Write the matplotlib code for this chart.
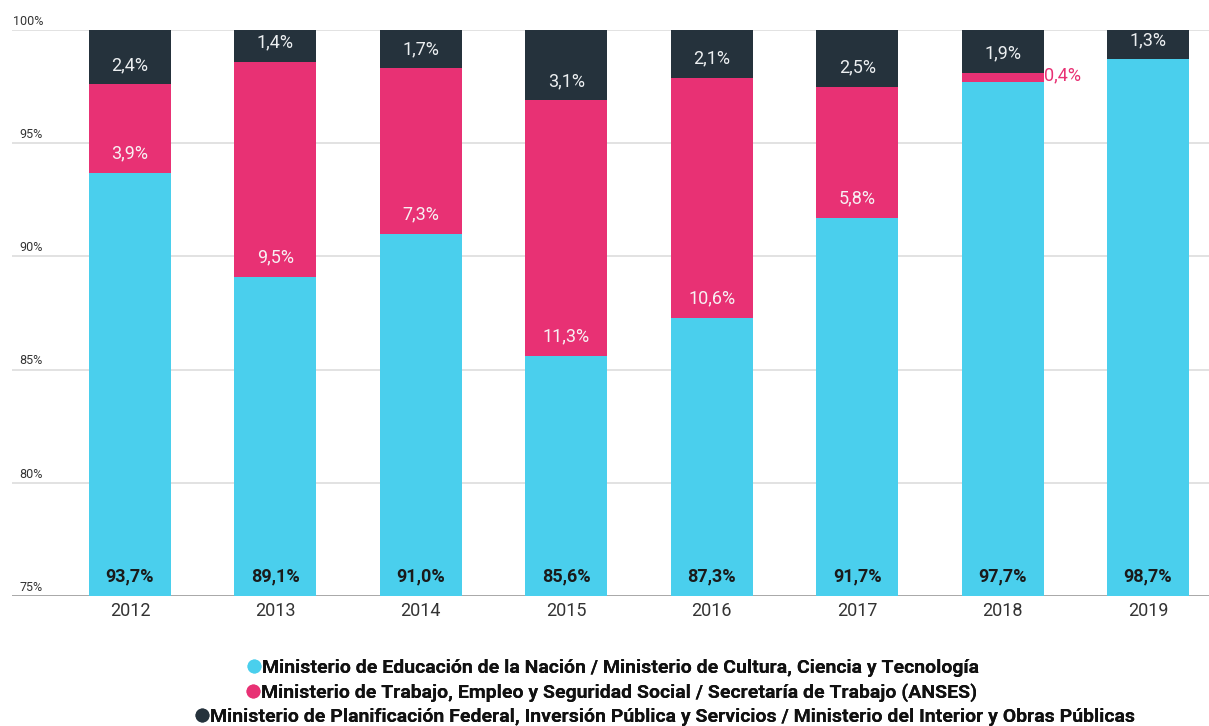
import matplotlib
matplotlib.use("Agg")
import matplotlib.pyplot as plt
from matplotlib.lines import Line2D
import numpy as np

plt.rcParams['font.family'] = ['Roboto', 'DejaVu Sans']

years = ['2012', '2013', '2014', '2015', '2016', '2017', '2018', '2019']
educacion = [93.7, 89.1, 91.0, 85.6, 87.3, 91.7, 97.7, 98.7]
trabajo = [3.9, 9.5, 7.3, 11.3, 10.6, 5.8, 0.4, 0.0]
planificacion = [2.4, 1.4, 1.7, 3.1, 2.1, 2.5, 1.9, 1.3]
series_names = [
    'Ministerio de Educación de la Nación / Ministerio de Cultura, Ciencia y Tecnología',
    'Ministerio de Trabajo, Empleo y Seguridad Social / Secretaría de Trabajo (ANSES)',
    'Ministerio de Planificación Federal, Inversión Pública y Servicios / Ministerio del Interior y Obras Públicas',
]
yticks = [75, 80, 85, 90, 95, 100]

c_cyan = '#4ACFED'
c_pink = '#E83174'
c_dark = '#25323C'

W, H = 1209, 726
fig = plt.figure(figsize=(W / 100, H / 100), dpi=100)
ax = fig.add_axes([12 / W, 1 - 596 / H, (W - 12) / W, (596 - 30) / H])

x = np.arange(len(years))
w = 0.565
edu = np.array(educacion)
tra = np.array(trabajo)
pla = np.array(planificacion)

ax.bar(x, edu - 75, bottom=75, width=w, color=c_cyan, zorder=2)
ax.bar(x, tra, bottom=edu, width=w, color=c_pink, zorder=2)
ax.bar(x, pla, bottom=edu + tra, width=w, color=c_dark, zorder=2)

ax.set_xlim(-0.811, 7.419)
ax.set_ylim(75, 100)

for t in yticks:
    ax.axhline(t, color='#dddddd' if t != 75 else '#999999', lw=1.2, zorder=1)
    ax.text(-0.598, t + 0.1, f'{t}%', fontsize=9, color='#333333',
            ha='right', va='bottom')

fmt = lambda v: f'{v:.1f}'.replace('.', ',') + '%'
for i in range(len(years)):
    ax.text(x[i], 75.45, fmt(edu[i]), ha='center', va='bottom', fontsize=13,
            fontweight='bold', color='#1a1a1a', zorder=3)
    if tra[i] > 0:
        if tra[i] >= 1:
            ax.text(x[i], edu[i] + 0.85, fmt(tra[i]), ha='center', va='center',
                    fontsize=13, color='#f7f0f3', zorder=3)
        else:
            ax.text(x[i] + w / 2, edu[i] + tra[i] / 2 + 0.08, fmt(tra[i]), ha='left',
                    va='center', fontsize=13, color=c_pink, zorder=3)
    ax.text(x[i], edu[i] + tra[i] + 0.85, fmt(pla[i]), ha='center', va='center',
            fontsize=13, color='#eceff1', zorder=3)

ax.set_xticks(x)
ax.set_xticklabels(years, fontsize=13, color='#333333')
ax.tick_params(axis='x', length=0, pad=4)
ax.set_yticks([])
for s in ax.spines.values():
    s.set_visible(False)

colors = [c_cyan, c_pink, c_dark]
ypos = [668, 693, 717]
xleft = [246, 245, 194]
for name, col, yp, xl in zip(series_names, colors, ypos, xleft):
    h = Line2D([], [], marker='o', linestyle='none', markersize=9,
               markerfacecolor=col, markeredgecolor=col)
    leg = fig.legend([h], [name], loc='center left', bbox_to_anchor=(xl / W, 1 - yp / H),
                     frameon=False, handletextpad=0.0, borderpad=0, borderaxespad=0,
                     handlelength=0.8, prop={'weight': 'bold', 'size': 14})
    for t in leg.get_texts():
        t.set_color('#111111')
    fig.add_artist(leg)

fig.savefig('out.png', dpi=100)
